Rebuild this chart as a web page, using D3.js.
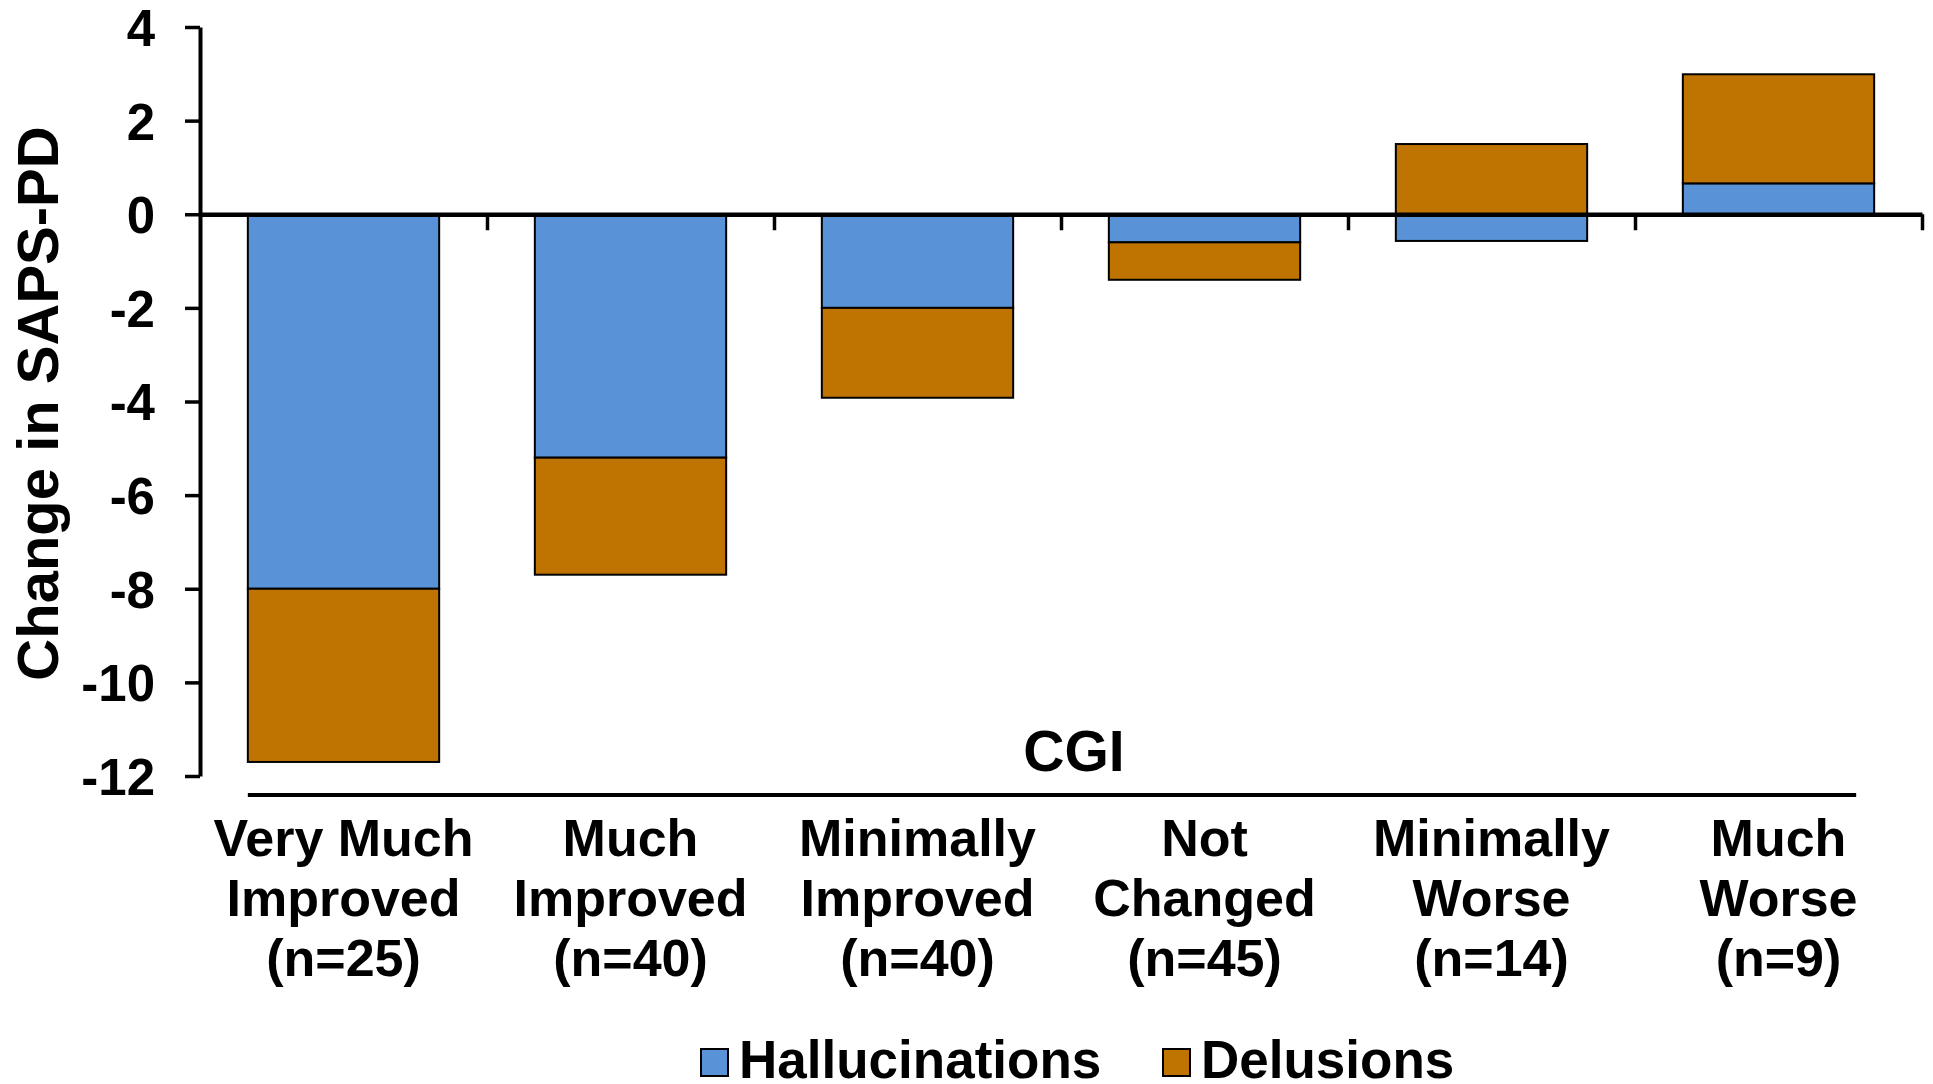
<!DOCTYPE html>
<html>
<head>
<meta charset="utf-8">
<script src="https://cdn.jsdelivr.net/npm/d3@7"></script>
<style>
  html, body { margin: 0; padding: 0; background: #fff; }
  text { font-family: "Liberation Sans", Arial, sans-serif; font-weight: bold; fill: #000; }
</style>
</head>
<body>
<div id="chart"></div>
<script>
// ========== Data ==========
const categories = ["Very Much Improved", "Much Improved", "Minimally Improved", "Not Changed", "Minimally Worse", "Much Worse"];
const sampleSizes = [25, 40, 40, 45, 14, 9];
const hallucinations = [-8.0, -5.2, -2.0, -0.6, -0.57, 0.66];
const delusions = [-3.7, -2.5, -1.92, -0.8, 1.5, 2.33];
const yTicks = [4, 2, 0, -2, -4, -6, -8, -10, -12];
const seriesNames = ["Hallucinations", "Delusions"];
const seriesColors = ["#5992d6", "#bf7300"];

// ========== Layout ==========
const width = 1933;
const height = 1084;
const margin = { top: 27, left: 200, right: 11, bottom: 308 };

const svg = d3.select("#chart")
  .append("svg")
  .attr("width", width)
  .attr("height", height);

const rows = categories.map((c, i) => ({
  category: c,
  Hallucinations: hallucinations[i],
  Delusions: delusions[i],
}));

const stacked = d3.stack()
  .keys(seriesNames)
  .offset(d3.stackOffsetDiverging)(rows);

const x = d3.scaleBand()
  .domain(categories)
  .range([margin.left, width - margin.right])
  .paddingInner(1 / 3)
  .paddingOuter(1 / 6);

const y = d3.scaleLinear()
  .domain([-12, 4])
  .range([height - margin.bottom, margin.top]);

// Bars
svg.append("g")
  .selectAll("g")
  .data(stacked)
  .join("g")
  .attr("fill", (d, i) => seriesColors[i])
  .selectAll("rect")
  .data((d) => d)
  .join("rect")
  .attr("x", (d) => x(d.data.category))
  .attr("width", x.bandwidth())
  .attr("y", (d) => y(Math.max(d[0], d[1])))
  .attr("height", (d) => Math.abs(y(d[0]) - y(d[1])))
  .attr("stroke", "#000")
  .attr("stroke-width", 2);

// Y axis (plain hyphen for negatives, like the original)
const yAxis = svg.append("g")
  .attr("transform", `translate(${margin.left},0)`)
  .call(d3.axisLeft(y)
    .tickValues(yTicks)
    .tickFormat((d) => String(d))
    .tickSize(15)
    .tickSizeOuter(0)
    .tickPadding(30));
yAxis.select(".domain").attr("stroke-width", 4);
yAxis.selectAll(".tick line").attr("stroke-width", 3.5);
yAxis.selectAll(".tick text")
  .style("font-size", "51px")
  .attr("dy", "0.36em");

// Zero axis with ticks between categories
const xBound = d3.scaleLinear()
  .domain([0, categories.length])
  .range([margin.left, width - margin.right]);
const zeroAxis = svg.append("g")
  .attr("transform", `translate(0,${y(0)})`)
  .call(d3.axisBottom(xBound).tickValues(d3.range(1, categories.length + 1)).tickSize(16).tickSizeOuter(0).tickFormat(""));
zeroAxis.select(".domain").attr("stroke-width", 4.5);
zeroAxis.selectAll(".tick line").attr("stroke-width", 3.5);

// Y label
svg.append("text")
  .attr("transform", `translate(58,${(margin.top + height - margin.bottom) / 2 + 2}) rotate(-90)`)
  .attr("text-anchor", "middle")
  .style("font-size", "58px")
  .text("Change in SAPS-PD");

// CGI label and rule
svg.append("text")
  .attr("x", 1074)
  .attr("y", 771)
  .attr("text-anchor", "middle")
  .style("font-size", "57px")
  .text("CGI");

svg.append("line")
  .attr("x1", x(categories[0]))
  .attr("x2", x(categories[categories.length - 1]) + x.bandwidth() - 18)
  .attr("y1", 795)
  .attr("y2", 795)
  .attr("stroke", "#000")
  .attr("stroke-width", 4);

// Category labels
const catLabels = svg.append("g")
  .selectAll("text")
  .data(categories)
  .join("text")
  .attr("text-anchor", "middle")
  .style("font-size", "52px");

catLabels.each(function (c, i) {
  const words = c.split(" ");
  const lines = [words.slice(0, -1).join(" "), words[words.length - 1], `(n=${sampleSizes[i]})`];
  const cx = x(c) + x.bandwidth() / 2;
  d3.select(this)
    .selectAll("tspan")
    .data(lines)
    .join("tspan")
    .attr("x", cx)
    .attr("y", (d, j) => 856 + j * 60)
    .text((d) => d);
});

// Legend
const legendItems = [
  { name: seriesNames[0], color: seriesColors[0], x: 701 },
  { name: seriesNames[1], color: seriesColors[1], x: 1163 },
];
const legend = svg.append("g");
legend.selectAll("rect")
  .data(legendItems)
  .join("rect")
  .attr("x", (d) => d.x)
  .attr("y", 1049)
  .attr("width", 27)
  .attr("height", 27)
  .attr("fill", (d) => d.color)
  .attr("stroke", "#000")
  .attr("stroke-width", 2);
legend.selectAll("text")
  .data(legendItems)
  .join("text")
  .attr("x", (d) => d.x + 38)
  .attr("y", 1078)
  .style("font-size", "53px")
  .text((d) => d.name);
</script>
</body>
</html>
